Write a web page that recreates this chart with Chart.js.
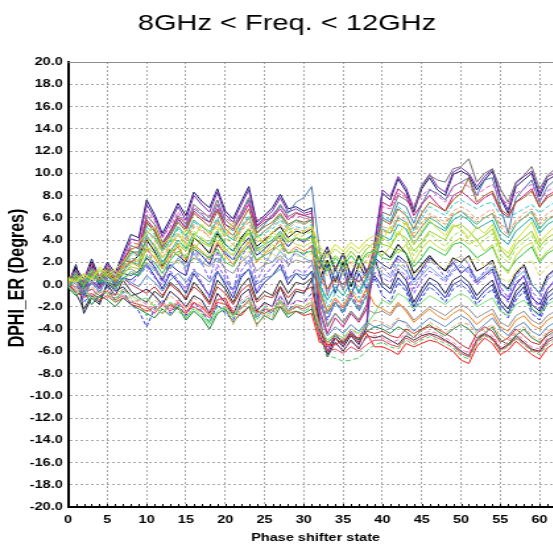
<!DOCTYPE html>
<html>
<head>
<meta charset="utf-8">
<script src="https://cdn.jsdelivr.net/npm/chart.js@4/dist/chart.umd.min.js"></script>
<style>
  html, body { margin: 0; padding: 0; background: #fff; overflow: hidden; }
</style>
</head>
<body>
<canvas id="myChart" width="436" height="545" style="display:block;width:575px;height:545px"></canvas>
<script>
// phase shifter states (x axis)
var states = [0,1,2,3,4,5,6,7,8,9,10,11,12,13,14,15,16,17,18,19,20,21,22,23,24,25,26,27,28,29,
  30,31,32,33,34,35,36,37,38,39,40,41,42,43,44,45,46,47,48,49,50,51,52,53,54,55,56,57,58,59,60,61,62];
var yTicks = [-20,-18,-16,-14,-12,-10,-8,-6,-4,-2,0,2,4,6,8,10,12,14,16,18,20];
var xTicks = [0,5,10,15,20,25,30,35,40,45,50,55,60];

// DPHI_ER curves (degrees), one per frequency
var line01 = [0.2,1.5,0.4,2.3,0.6,2.0,1.0,2.8,4.5,4.2, 7.6,6.3,4.6,5.9,7.3,6.2,8.3,7.5,6.9,8.6,
  6.6,5.9,7.4,8.8,5.6,6.2,6.9,8.1,6.8,7.0, 6.6,6.9,-4.5,-6.3,-4.8,-5.6,-4.6,-5.4,-3.8,3.5,
  8.2,7.6,9.5,8.4,6.5,8.6,9.6,8.5,8.0,9.9, 10.2,9.8,8.5,9.4,10.2,7.8,6.4,8.8,9.4,10.0, 7.9,9.4,9.8];
var line02 = [0.0,1.2,0.1,2.0,0.3,1.8,0.6,2.5,4.1,3.9, 7.2,6.0,4.3,5.6,7.0,5.8,8.0,7.2,6.5,8.3,
  6.3,5.6,7.1,8.5,5.3,6.0,6.6,7.8,6.5,6.8, 6.4,6.6,-3.0,-6.0,-4.4,-5.3,-4.2,-5.0,-3.4,3.8,
  8.5,7.9,9.7,8.7,6.8,8.9,9.9,8.8,8.3,10.1, 10.5,10.0,8.8,9.7,10.4,8.0,6.7,9.1,9.7,10.2, 8.2,9.7,10.0];
var line03 = [0.5,1.0,0.2,1.6,0.0,1.4,0.4,2.0,3.5,3.2, 6.2,5.4,3.8,4.8,6.2,5.4,7.2,6.6,6.0,7.6,
  5.8,5.2,6.4,7.8,5.0,5.6,6.0,7.2,6.1,6.5, 6.2,6.0,-1.0,-3.8,-2.6,-3.4,-2.4,-3.2,-1.8,2.5,
  6.5,6.2,8.0,7.6,6.8,8.8,9.8,9.4,9.2,10.4, 10.6,11.3,9.2,10.0,10.4,8.6,7.4,9.2,9.8,10.6, 8.6,9.8,10.4];
var line04 = [-0.2,0.8,-0.5,1.4,-0.2,1.2,0.2,1.7,3.0,2.8, 5.5,4.8,3.4,4.6,5.8,5.2,6.8,6.3,5.6,7.2,
  5.4,4.8,6.2,7.6,4.6,5.4,6.3,7.0,6.4,7.4, 7.8,8.8,3.1,-1.0,1.5,-0.5,1.0,-0.8,0.6,2.0,
  6.0,5.6,7.4,7.0,5.5,7.2,8.5,8.2,7.6,8.8, 9.2,9.6,8.0,9.4,9.6,7.0,4.6,7.8,8.6,9.4, 7.4,8.8,9.4];
var line05 = [0.3,0.9,0.0,1.2,0.4,1.0,0.8,1.5,2.8,2.5, 5.2,4.5,3.0,3.8,5.0,4.2,5.6,5.2,4.8,6.0,
  4.5,4.0,5.2,6.2,4.2,4.6,5.0,5.8,4.9,5.2, 5.0,5.4,0.5,-2.0,-0.8,-1.5,-0.4,-1.2,0.2,2.8,
  6.2,5.8,7.0,6.4,4.8,6.0,7.0,6.6,6.2,7.2, 7.6,7.2,6.8,7.2,7.4,6.2,6.0,6.4,6.8,7.2, 6.4,7.0,7.4];
var line06 = [0.4,1.3,0.3,1.9,0.2,1.6,0.9,2.2,3.8,3.6, 6.6,5.8,4.2,5.2,6.5,5.6,7.0,6.4,6.2,7.2,
  6.0,5.5,6.5,7.4,5.8,6.0,6.2,6.8,6.0,6.2, 6.0,5.8,-0.5,-2.6,-1.4,-2.2,-1.0,-2.0,-0.6,3.0,
  7.0,6.8,8.2,7.8,7.2,8.0,8.6,8.0,7.4,8.8, 9.2,8.8,8.0,8.6,9.0,7.8,7.2,8.2,8.6,9.0, 7.6,8.4,8.8];
var line07 = [0.0,0.8,0.5,1.0,0.9,1.2,0.5,1.4,2.2,2.0, 4.2,3.6,2.4,3.5,4.4,3.8,5.2,4.8,4.4,5.5,
  4.2,3.6,4.8,5.6,3.8,4.2,4.6,5.4,4.6,5.0, 4.8,5.0,1.8,0.8,1.6,1.2,2.0,1.4,2.2,3.5,
  4.8,4.6,5.8,5.4,4.6,5.6,6.2,5.8,5.4,6.4, 6.6,6.2,5.6,6.0,6.4,5.4,5.0,5.6,6.0,6.4, 5.4,6.0,6.2];
var line08 = [0.2,0.5,0.8,0.6,1.2,0.8,0.4,1.0,1.6,1.4, 3.4,2.8,1.8,2.8,3.6,3.0,4.2,3.8,3.4,4.4,
  3.2,2.6,3.8,4.6,3.0,3.4,3.8,4.6,3.8,4.2, 4.0,4.2,2.8,1.8,2.6,2.0,3.0,2.2,3.2,3.8,
  3.6,3.4,4.6,4.2,3.0,3.8,4.8,4.4,4.0,5.2, 5.4,4.8,4.0,4.4,5.0,3.2,2.4,3.6,4.2,4.8, 3.4,4.2,4.6];
var line09 = [-0.3,0.6,-0.2,0.8,0.2,0.4,-0.4,0.6,1.0,0.8, 2.6,2.0,1.0,2.2,3.0,2.4,3.4,2.8,2.4,3.2,
  2.0,1.6,2.8,3.4,2.2,2.6,3.0,3.6,2.8,3.0, 2.8,3.0,2.2,1.2,2.4,1.6,2.6,1.8,2.8,3.0,
  2.4,2.2,3.2,2.8,1.6,2.4,3.4,3.0,2.6,3.6, 3.8,3.2,2.4,2.8,3.4,1.8,1.2,2.2,2.8,3.4, 2.0,2.8,3.2];
var line10 = [0.0,1.8,-2.6,-1.2,-1.8,0.2,-0.6,-0.2,-1.0,-0.8, -0.4,-1.0,-1.8,-0.6,-1.2,-2.0,-1.0,-1.4,-2.6,-0.8,
  -1.6,-2.8,-1.0,-0.4,-2.4,-1.6,-2.0,-0.2,-1.8,-0.6, -0.8,0.4,2.0,3.4,1.2,2.8,0.8,2.6,1.0,2.4,
  0.2,-0.4,1.2,0.4,-1.6,-0.4,0.6,0.2,-0.8,0.4, 0.8,0.2,-1.0,-0.2,0.4,-1.4,-2.2,-0.6,0.2,-1.8, -2.4,-0.8,-0.2];
var line11 = [-0.4,0.2,-1.6,-0.8,-1.2,-0.2,-1.4,-0.6,-1.8,-2.4, -3.8,-2.2,-1.4,-2.6,-1.8,-2.8,-1.6,-2.4,-3.4,-1.8,
  -2.6,-3.2,-1.8,-1.2,-3.0,-2.2,-2.6,-1.0,-2.4,-1.4, -1.6,-0.8,-1.8,-3.2,-1.6,-2.6,-1.2,-2.4,-1.0,0.6,
  -1.0,-1.6,0.2,-0.6,-2.4,-1.2,-0.2,-0.8,-1.6,-0.4, 0.0,-0.6,-1.8,-1.0,-0.4,-2.2,-3.0,-1.4,-0.6,-2.6, -3.2,-1.6,-1.0];
var line12 = [0.0,-0.6,-1.2,-0.8,-1.4,-1.0,-1.6,-1.2,-1.8,-2.0, -2.4,-2.0,-2.6,-1.8,-2.2,-2.6,-1.6,-2.0,-2.8,-1.4,
  -1.2,-2.6,-2.8,-2.0,-2.4,-2.6,-2.2,-2.0,-2.6,-2.4, -2.8,-2.6,-5.2,-5.4,-5.4,-5.0,-4.6,-4.8,-4.4,-5.6,
  -5.6,-5.9,-6.3,-5.3,-5.6,-5.3,-5.0,-5.2,-5.6,-6.0, -6.8,-7.1,-5.6,-4.8,-5.3,-6.3,-5.9,-5.1,-5.7,-6.3, -6.7,-5.7,-5.2];
var line13 = [0.2,-0.4,-1.0,-0.4,-1.2,-0.6,-1.2,-0.8,-1.4,-1.8, -2.8,-1.8,-2.2,-1.6,-2.4,-3.0,-2.0,-2.6,-3.4,-2.0,
  -2.2,-3.0,-2.0,-1.6,-3.2,-2.4,-2.8,-1.6,-2.8,-2.0, -2.4,-2.0,-4.8,-6.4,-6.6,-6.9,-6.8,-6.6,-6.0,-5.4,
  -5.2,-5.6,-5.8,-5.0,-5.4,-5.0,-4.7,-5.0,-5.3,-5.7, -6.4,-6.7,-5.3,-4.6,-5.0,-6.0,-5.6,-4.9,-5.4,-6.0, -6.3,-5.4,-5.0];
var line14 = [0.1,-0.8,-2.2,-1.0,-1.6,0.0,-1.0,0.4,-0.6,-1.2, -1.6,-0.6,-1.2,0.2,-0.4,-1.4,0.2,-0.6,-1.6,0.4,
  -0.4,-1.6,-0.2,0.6,-1.4,-0.6,-1.0,0.4,-0.8,0.2, 0.0,0.6,-3.6,-6.5,-5.2,-6.0,-5.0,-5.8,-4.6,-4.8,
  -4.6,-5.0,-5.4,-4.6,-5.0,-4.6,-4.4,-4.6,-5.0,-5.4, -6.0,-6.4,-5.0,-4.4,-4.8,-5.8,-5.4,-4.6,-5.2,-5.8, -6.0,-5.0,-4.6];
var line15 = [0.3,0.6,0.0,1.0,0.2,0.8,0.4,1.2,1.4,1.0, 2.0,1.4,0.6,1.6,2.2,1.6,2.4,2.0,1.6,2.4,
  1.4,1.0,2.0,2.6,1.2,1.8,2.0,2.6,1.8,2.2, 2.0,2.2,-1.6,-3.6,-2.6,-3.4,-2.4,-3.2,-2.2,-2.6,
  -2.4,-2.8,-1.8,-2.2,-3.2,-2.6,-2.0,-2.4,-2.8,-2.2, -1.8,-2.2,-3.0,-2.6,-2.2,-3.4,-3.8,-2.8,-2.4,-3.2, -3.6,-2.8,-2.4];
var line16 = [-0.2,0.4,-0.8,0.2,-0.6,0.4,-0.4,0.6,0.2,-0.2, 0.8,0.2,-0.6,0.4,1.0,0.2,1.2,0.8,0.2,1.2,
  0.2,-0.4,0.8,1.4,0.0,0.6,0.8,1.4,0.6,1.0, 0.8,1.0,-2.6,-4.6,-3.8,-4.4,-3.6,-4.2,-3.4,-3.8,
  -3.6,-4.0,-3.2,-3.4,-4.2,-3.6,-3.0,-3.4,-3.8,-3.2, -2.8,-3.2,-4.2,-3.6,-3.0,-4.0,-4.6,-3.8,-3.4,-4.2, -4.6,-3.8,-3.4];
var line17 = [0.4,0.0,-0.6,-0.2,-0.8,-0.4,-1.0,-0.4,-1.2,-1.6, -2.2,-1.4,-1.8,-1.0,-1.6,-2.2,-1.2,-1.8,-2.8,-1.4,
  -1.8,-3.6,-2.2,-1.4,-3.8,-2.6,-3.0,-1.6,-2.6,-1.8, -2.0,-1.4,-3.6,-5.4,-4.4,-5.0,-4.0,-4.6,-3.8,-3.2,
  -3.4,-3.8,-3.0,-3.6,-4.6,-4.2,-3.4,-3.8,-4.4,-3.8, -3.4,-3.6,-4.4,-4.0,-3.6,-4.6,-5.0,-4.2,-3.8,-4.6, -5.0,-4.2,-3.8];
var line18 = [-0.2,-0.6,-0.4,-1.0,-0.6,-1.2,-0.8,-1.0,-1.6,-1.4, -1.8,-2.4,-1.6,-2.2,-1.4,-2.0,-1.6,-2.2,-2.4,-1.2,
  -1.6,-2.2,-1.4,-1.0,-2.2,-1.8,-2.0,-1.0,-2.0,-1.4, -1.6,-1.2,-4.4,-5.8,-5.4,-5.8,-5.2,-5.6,-4.8,-4.6,
  -4.8,-5.2,-5.0,-4.4,-4.8,-4.4,-4.2,-4.4,-4.8,-5.2, -5.8,-6.2,-4.8,-4.2,-4.6,-5.6,-5.2,-4.4,-5.0,-5.6, -5.8,-4.8,-4.4];
var line19 = [0.6,0.3,1.0,0.4,1.4,0.6,1.2,0.8,1.8,2.2, 3.0,3.6,2.4,3.2,2.6,3.8,3.0,4.2,3.4,4.0,
  3.0,3.6,2.8,4.0,3.4,2.8,3.6,3.0,4.2,3.6, 3.4,3.8,3.0,2.4,3.2,2.6,3.4,2.8,3.6,3.2,
  2.6,3.4,2.8,3.6,2.0,3.2,4.0,3.4,3.0,3.8, 4.2,3.6,4.0,3.0,3.6,1.8,1.0,2.6,3.4,3.8, 2.2,3.0,3.6];
var line20 = [0.0,0.4,-0.8,0.8,-0.4,1.0,0.2,0.6,0.0,0.8, 1.6,0.6,0.0,1.2,0.4,-0.4,1.4,0.2,-1.2,1.8,
  0.6,-0.8,1.2,2.2,-0.6,0.8,1.6,2.4,0.4,1.4, 1.0,1.8,0.6,-0.6,0.8,0.0,1.2,0.2,1.4,1.0,
  0.6,0.2,1.4,0.8,-0.8,0.4,1.2,0.8,0.2,1.2, 1.6,1.0,0.0,0.6,1.2,-0.6,-1.6,0.2,0.8,-1.0, -2.2,-0.4,0.4];
var line21 = [0.2,0.7,0.1,1.1,0.5,1.2,0.3,1.8,3.0,2.6, 5.6,4.8,3.2,4.4,5.6,4.8,6.4,5.8,5.2,6.6,
  5.0,4.4,5.6,6.8,4.6,5.2,5.6,6.4,5.4,5.8, 5.6,5.8,1.2,-0.4,0.6,0.0,0.8,0.2,1.0,3.4,
  5.8,5.4,6.8,6.2,5.0,6.4,7.4,7.0,6.6,7.6, 8.2,9.6,7.4,8.0,8.4,6.8,6.2,7.4,7.8,8.4, 7.0,7.8,8.2];
var line22 = [-0.1,0.9,-0.3,1.3,0.1,0.9,0.0,1.2,2.0,1.8, 4.4,3.4,2.0,3.0,4.0,3.2,4.6,4.0,3.6,4.8,
  3.6,3.0,4.0,5.0,3.2,3.6,4.0,4.8,3.8,4.2, 4.0,4.4,0.0,-1.4,-0.2,-1.0,0.2,-0.6,0.6,2.2,
  4.4,4.0,5.4,5.0,3.6,4.6,5.6,5.2,4.8,5.8, 6.2,5.8,5.0,5.4,5.8,4.2,3.6,4.8,5.4,6.0, 4.6,5.4,5.8];
var line23 = [0.5,0.2,0.6,0.1,0.8,0.2,0.6,0.3,1.0,1.4, 2.0,2.6,1.6,2.2,1.8,2.8,2.2,3.0,2.6,3.0,
  2.4,2.8,2.0,3.0,2.6,2.0,2.8,2.2,3.2,2.6, 2.4,2.8,1.6,0.8,1.4,1.0,1.8,1.2,2.0,1.6,
  1.2,1.8,1.4,2.0,0.8,1.6,2.2,1.8,1.4,2.2, 2.6,2.0,2.4,1.6,2.0,0.6,0.2,1.2,1.8,2.2, 0.8,1.6,2.0];
var line24 = [-0.2,-0.8,-0.2,-1.4,-0.6,-0.8,-1.6,-0.4,-1.0,-1.4, -1.2,-2.0,-2.6,-1.6,-2.0,-3.0,-2.2,-2.8,-3.6,-2.4,
  -2.0,-2.8,-1.6,-1.2,-2.8,-2.0,-2.4,-1.4,-2.4,-1.8, -2.0,-1.6,-3.8,-5.0,-4.4,-4.8,-4.0,-4.4,-3.6,-2.6,
  -1.4,-1.8,-0.8,-1.2,-2.2,-1.6,-1.0,-1.4,-1.8,-1.2, -0.8,-1.2,-2.0,-1.6,-1.2,-2.4,-2.8,-1.8,-1.4,-2.2, -2.6,-1.8,-1.4];
var line25 = [0.1,0.4,-0.4,0.2,-0.2,0.4,-0.2,0.6,0.0,-0.4, -0.8,-0.2,-1.0,0.0,-0.6,-1.2,-0.2,-0.8,-1.8,-0.2,
  -0.8,-1.8,-0.6,0.0,-1.6,-1.0,-1.2,-0.2,-1.2,-0.4, -0.6,-0.2,-3.8,-5.6,-4.8,-5.4,-4.4,-5.2,-4.2,-4.4,
  -4.2,-4.6,-4.8,-4.0,-4.4,-4.0,-3.8,-4.0,-4.4,-4.8, -5.4,-5.8,-4.4,-3.8,-4.2,-5.2,-4.8,-4.0,-4.6,-5.2, -5.4,-4.4,-4.0];
var line26 = [0.0,0.8,-1.0,0.4,-0.4,0.8,0.0,1.0,0.8,1.2, 2.4,1.6,0.4,1.8,1.2,0.8,3.2,2.6,1.8,3.6,
  2.8,2.2,3.4,4.2,2.6,3.2,3.8,4.4,3.4,4.2, 3.8,4.4,1.4,3.0,1.4,2.8,0.6,2.6,1.2,2.4,
  1.8,1.4,2.6,2.0,0.4,1.4,2.4,1.8,1.2,2.0, 1.0,1.6,0.2,0.8,1.4,-0.8,-1.4,0.0,0.8,-1.2, -1.8,-0.4,0.4];
var line27 = [0.4,0.2,0.9,0.5,1.6,0.9,1.4,2.0,3.0,3.8, 4.6,5.2,3.6,4.2,3.4,5.0,4.2,5.4,4.6,5.2,
  4.4,5.6,3.8,5.0,4.6,3.6,4.8,4.0,5.2,4.4, 4.8,5.2,3.4,2.6,3.6,3.0,3.8,3.2,4.0,4.4,
  4.0,5.2,4.4,5.6,3.6,4.8,5.8,5.0,4.4,5.4, 5.0,4.2,5.2,4.6,5.4,3.4,2.8,4.0,4.8,5.6, 3.8,4.6,5.2];
var line28 = [0.1,0.6,-1.2,0.2,-0.8,0.6,-0.6,1.2,2.4,2.0, 3.6,1.4,0.2,2.4,3.8,1.0,3.2,2.0,0.4,3.0,
  1.2,-0.6,2.4,3.6,0.2,1.8,3.0,4.2,1.6,3.2, 2.6,3.6,-1.2,-3.0,-1.6,-2.4,-0.8,-2.0,-0.4,1.0,
  1.6,0.8,2.4,1.4,-0.4,1.0,2.2,1.6,0.6,2.0, 2.6,1.8,0.4,1.2,2.0,-0.2,-1.2,0.8,1.6,-0.6, -1.4,0.6,1.4];
var line29 = [-0.3,-1.0,-0.6,-1.8,-1.0,-1.4,-2.0,-1.2,-1.8,-2.2, -2.6,-3.0,-2.2,-2.8,-2.0,-3.2,-2.4,-3.0,-4.0,-2.6,
  -2.2,-3.4,-2.6,-2.0,-3.6,-2.8,-3.2,-2.0,-3.0,-2.4, -2.6,-2.2,-4.2,-5.2,-4.6,-5.2,-4.4,-5.0,-4.2,-3.8,
  -4.0,-4.4,-3.8,-4.2,-4.8,-4.0,-3.6,-4.2,-4.6,-4.0, -3.6,-4.0,-4.8,-4.4,-3.8,-5.0,-5.4,-4.6,-4.0,-4.8, -5.2,-4.6,-4.2];
var line30 = [0.2,0.4,0.0,0.8,0.4,1.0,0.2,1.6,2.0,1.6, 3.2,2.4,1.4,2.6,3.4,2.2,3.6,3.0,2.2,3.8,
  2.6,1.8,3.0,3.8,2.0,2.8,3.2,4.0,2.8,3.4, 3.0,3.4,-0.8,-2.4,-1.2,-2.0,-0.6,-1.6,-0.4,-1.8,
  -2.2,-2.6,-1.6,-2.4,-3.4,-2.8,-2.2,-2.8,-3.2,-2.6, -2.2,-2.8,-3.6,-3.0,-2.6,-3.8,-4.2,-3.2,-2.8,-3.6, -4.0,-3.2,-2.8];
var line31 = [-0.1,0.3,0.6,0.2,0.8,0.0,0.6,0.4,1.2,0.8, 1.8,1.2,2.2,1.4,2.4,1.6,2.8,1.8,2.6,2.0,
  3.0,2.2,2.6,1.8,3.2,2.4,2.0,3.0,2.2,2.8, 2.4,2.0,0.2,1.4,0.6,1.6,0.4,1.2,0.8,1.6,
  1.0,0.6,1.8,1.2,0.2,0.8,1.6,1.0,0.4,1.4, 1.8,1.2,0.4,1.0,1.6,0.2,-0.6,0.6,1.2,0.0, -0.8,0.4,1.0];
var line32 = [0.6,1.0,0.4,1.4,0.8,1.6,0.6,1.8,2.6,3.0, 4.8,4.0,2.8,3.6,4.6,4.0,5.4,5.0,4.2,5.8,
  4.8,4.2,5.0,6.0,4.4,4.8,5.2,6.0,5.0,5.6, 5.4,5.6,0.8,-0.8,0.4,-0.4,0.6,-0.2,0.8,2.6,
  5.2,5.0,6.2,5.8,4.2,5.2,6.4,6.0,5.6,6.6, 7.0,6.6,5.8,6.4,6.8,5.2,4.4,5.8,6.4,6.8, 5.6,6.4,6.8];
var line33 = [0.0,1.0,0.2,1.6,0.4,1.4,0.6,2.2,3.2,3.4, 5.8,5.0,3.6,4.8,6.0,5.0,6.6,6.0,5.6,6.8,
  5.4,5.0,6.0,7.2,5.2,5.8,6.0,6.8,5.8,6.4, 6.2,6.4,-2.2,-4.4,-3.0,-3.8,-2.6,-3.4,-2.2,2.0,
  7.4,7.0,8.6,8.0,6.2,7.2,8.0,7.2,6.6,8.0, 8.4,7.8,7.2,7.8,8.2,6.6,6.0,7.4,8.0,8.6, 7.0,8.0,8.4];
var line34 = [0.2,0.6,-0.6,1.0,0.0,1.2,-0.2,0.6,0.4,1.0, 1.8,0.8,-0.4,1.0,0.2,-0.8,1.0,0.0,-1.0,1.2,
  0.0,-1.2,0.6,1.4,-0.8,0.2,0.8,1.8,0.0,1.0, 0.4,1.2,-0.2,1.8,-0.8,1.4,-1.0,1.0,-0.4,0.8,
  -0.2,-0.8,0.6,-0.2,-2.0,-0.8,0.2,-0.4,-1.2,0.0, 0.4,-0.2,-1.4,-0.6,0.0,-1.8,-2.6,-1.0,-0.2,-2.2, -2.8,-1.2,-0.6];
var line35 = [0.3,0.8,0.4,1.2,0.6,1.4,0.8,1.6,2.4,2.2, 3.8,4.4,3.0,3.6,4.6,3.4,4.8,4.2,3.8,5.0,
  3.8,4.4,3.4,4.8,4.2,3.6,4.4,3.8,5.0,4.2, 4.4,4.8,2.4,1.2,2.0,1.4,2.2,1.6,2.6,3.0,
  4.2,3.6,4.8,3.8,2.6,3.6,4.6,4.0,3.4,4.4, 4.8,4.0,3.4,4.0,4.6,2.6,2.0,3.2,3.8,4.4, 3.0,3.8,4.2];
var line36 = [0.0,-0.2,-0.8,-0.4,-1.0,-0.6,-1.4,-1.0,-1.6,-1.8, -2.0,-2.6,-1.8,-2.4,-1.6,-2.4,-2.0,-2.4,-3.0,-1.6,
  -1.8,-2.4,-2.2,-1.4,-2.6,-2.2,-2.4,-1.4,-2.4,-2.0, -2.2,-1.8,-4.8,-6.0,-5.8,-6.2,-5.6,-6.0,-5.4,-5.0,
  -5.0,-5.4,-5.6,-4.8,-5.2,-4.8,-4.5,-4.8,-5.1,-5.5, -6.2,-6.5,-5.1,-4.5,-4.9,-5.9,-5.5,-4.8,-5.3,-5.9, -6.1,-5.2,-4.8];
var line37 = [0.1,1.1,0.0,1.5,0.2,1.3,0.5,1.9,2.8,3.0, 4.8,4.2,3.0,4.0,5.2,4.4,5.8,5.2,4.6,5.8,
  4.6,4.0,5.0,6.0,4.2,4.8,5.4,6.2,5.2,5.8, 5.4,5.8,-0.2,-2.6,-1.6,-2.4,-1.2,-2.2,-1.0,1.8,
  5.0,4.6,6.0,5.6,4.2,5.2,6.0,5.6,5.0,6.2, 6.6,6.0,5.4,6.0,6.4,4.8,4.2,5.4,6.0,6.6, 5.0,5.8,6.2];
var line38 = [0.0,1.6,-0.4,2.0,0.0,1.6,0.2,2.2,2.0,2.6, 4.0,3.0,1.6,3.2,2.6,2.0,4.2,3.6,2.8,4.6,
  3.6,3.0,4.2,5.0,3.4,4.0,4.6,5.2,4.2,4.8, 4.6,5.0,0.4,2.2,0.2,2.0,-0.2,1.8,0.6,2.8,
  3.0,2.4,3.6,2.8,1.0,1.8,2.6,1.8,1.2,2.4, 2.0,2.6,1.2,1.6,2.2,0.2,-0.4,1.0,1.8,0.0, -0.8,0.8,1.4];

// drawing order: light colours first, dark ones on top
var curves = [line23, line19, line27, line08, line35, line09, line31, line07, line30, line22, line32, line05,
  line37, line21, line06, line33, line15, line16, line17, line24, line20, line28, line18, line25, line29,
  line36, line13, line12, line11, line14, line10, line34, line38, line26, line04, line03, line02, line01];
var curveColors = ['#d8d860', '#c0d840', '#d0e030', '#90d020', '#a0e040', '#30c040', '#70a8e0', '#e09040',
  '#f08020', '#20a8a0', '#f0a080', '#30c8c8', '#30b080', '#a06020', '#e050c0', '#c02080', '#909090',
  '#5a88c0', '#e0a060', '#70e070', '#9050ff', '#8060e0', '#ff70b0', '#c03030', '#208040', '#e04060',
  '#40d060', '#ff1818', '#3040e0', '#303030', '#202050', '#2030a0', '#000000', '#2020a0', '#4a7ab0',
  '#707070', '#7a30b0', '#1a1a70'];
var curveDashed = [true, false, false, false, true, false, false, true, false, false, true, true,
  false, false, true, false, false, false, true, false, true, true, true, false, false,
  false, true, false, true, false, false, false, false, false, false, false, false, false];

var datasets = [];
for (var k = 0; k < curves.length; k++) {
    var pts = [];
    for (var i = 0; i < states.length; i++) {
        pts.push({ x: states[i], y: curves[k][i] });
    }
    datasets.push({
        data: pts,
        borderColor: curveColors[k],
        borderWidth: 1,
        borderDash: curveDashed[k] ? [4, 2] : [],
        pointRadius: 0,
        tension: 0,
        fill: false
    });
}

var FONT = "'Liberation Sans', Arial, sans-serif";
var PLOT_LEFT = 51.6;
var PLOT_BOTTOM_SPACE = 38;

var decor = {
    id: 'decor',
    afterDraw: function (chart) {
        var ctx = chart.ctx;
        var a = chart.chartArea;
        var xs = chart.scales.x;
        ctx.save();
        // top border
        ctx.strokeStyle = '#8c8c8c';
        ctx.lineWidth = 1;
        ctx.beginPath();
        ctx.moveTo(a.left, a.top + 0.5);
        ctx.lineTo(a.right, a.top + 0.5);
        ctx.stroke();
        // small ticks on the state axis
        ctx.strokeStyle = '#000';
        ctx.beginPath();
        for (var s = 0; s <= 63; s++) {
            var px = Math.round(xs.getPixelForValue(s)) + 0.5;
            ctx.moveTo(px, a.bottom);
            ctx.lineTo(px, a.bottom - 3);
        }
        ctx.stroke();
        // titles
        ctx.fillStyle = '#000';
        ctx.textAlign = 'center';
        ctx.textBaseline = 'middle';
        ctx.font = '22px ' + FONT;
        ctx.fillText('8GHz < Freq. < 12GHz', 217.6, 24);
        ctx.font = 'bold 11px ' + FONT;
        ctx.fillText('Phase shifter state', (a.left + a.right) / 2, 538);
        ctx.font = 'bold 16px ' + FONT;
        ctx.translate(13.3, 278);
        ctx.rotate(-Math.PI / 2);
        ctx.fillText('DPHI_ER (Degres)', 0, 0);
        ctx.restore();
    }
};

var myChart = document.getElementById('myChart');
var chart = new Chart(myChart, {
    type: 'line',
    data: { datasets: datasets },
    options: {
        responsive: false,
        maintainAspectRatio: false,
        devicePixelRatio: 1,
        animation: false,
        layout: { padding: { top: 62, right: 9, left: 0, bottom: 0 } },
        plugins: {
            legend: { display: false },
            title: { display: false },
            tooltip: { enabled: false }
        },
        scales: {
            x: {
                type: 'linear',
                min: 0,
                max: 63,
                afterFit: function (scale) { scale.height = PLOT_BOTTOM_SPACE; },
                afterBuildTicks: function (scale) {
                    scale.ticks = xTicks.map(function (v) { return { value: v }; });
                },
                ticks: {
                    color: '#000',
                    padding: 6,
                    maxRotation: 0,
                    autoSkip: false,
                    font: { family: FONT, size: 11, weight: 'bold' }
                },
                grid: { color: '#a8a8a8', lineWidth: 1, drawTicks: false },
                border: { display: true, color: '#000', width: 2, dash: [2, 2] }
            },
            y: {
                type: 'linear',
                min: -20,
                max: 20,
                afterFit: function (scale) { scale.width = PLOT_LEFT; },
                afterBuildTicks: function (scale) {
                    scale.ticks = yTicks.map(function (v) { return { value: v }; });
                },
                ticks: {
                    color: '#000',
                    padding: 4,
                    autoSkip: false,
                    font: { family: FONT, size: 11, weight: 'bold' },
                    callback: function (v) { return Number(v).toFixed(1); }
                },
                grid: { color: '#a8a8a8', lineWidth: 1, drawTicks: false },
                border: { display: true, color: '#000', width: 2, dash: [2, 2] }
            }
        }
    },
    plugins: [decor]
});
</script>
</body>
</html>
